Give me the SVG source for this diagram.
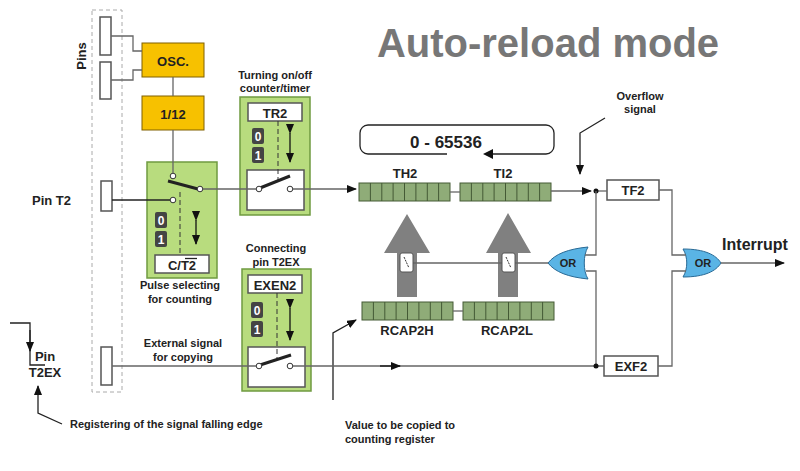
<svg xmlns="http://www.w3.org/2000/svg" width="800" height="471" viewBox="0 0 800 471">
<style>
text{font-family:"Liberation Sans",Arial,sans-serif;font-weight:bold;fill:#222}
.s{font-size:11px}
.m{font-size:13px}
.w{fill:#fff;stroke:#555;stroke-width:1.5}
.g{fill:#b8dc7e;stroke:#6f9a40;stroke-width:1.5}
.y{fill:#f7c100;stroke:#806000;stroke-width:1}
.ln{fill:none;stroke:#666;stroke-width:1.3}
.bk{fill:none;stroke:#222;stroke-width:1.3}
.reg{fill:#8fac78;stroke:#445a35;stroke-width:1}
.or{fill:#5ab4e5;stroke:#2a6a95;stroke-width:1}
.d{fill:#444;stroke:none}
.dg{fill:#fff;font-size:12px}
.c{fill:#fff;stroke:#333;stroke-width:1}
</style>
<defs>
<marker id="a" markerWidth="10" markerHeight="8" refX="9" refY="4" orient="auto" markerUnits="userSpaceOnUse"><path d="M0,0L10,4L0,8z" fill="#111"/></marker>
<g id="sw"><rect x="0" y="0" width="13" height="19" rx="2" fill="#fff" stroke="#555"/><path d="M4,4L9,15" stroke="#333" stroke-width="1" stroke-dasharray="2,1"/></g>
<g id="dig"><rect x="0" y="0" width="12" height="16" rx="2" class="d"/><rect x="0" y="19" width="12" height="16" rx="2" class="d"/><text x="6" y="13" text-anchor="middle" class="dg">0</text><text x="6" y="32" text-anchor="middle" class="dg">1</text></g>
</defs>
<text x="548" y="57" text-anchor="middle" style="font-size:40px;fill:#777">Auto-reload mode</text>
<g id="pins">
<rect x="92" y="10" width="30" height="382" fill="none" stroke="#aaa" stroke-dasharray="4,3"/>
<rect x="100" y="17" width="11" height="38" class="w"/>
<rect x="100" y="62" width="11" height="37" class="w"/>
<rect x="101" y="181" width="11" height="30" class="w"/>
<rect x="101" y="347" width="11" height="38" class="w"/>
<text transform="translate(86,56) rotate(-90)" class="m" text-anchor="middle">Pins</text>
<text x="71" y="205" class="m" text-anchor="end">Pin T2</text>
<text x="45" y="361" class="m" text-anchor="middle">Pin</text>
<text x="45" y="377" class="m" text-anchor="middle">T2EX</text>
</g>
<g id="osc"><rect x="142" y="43" width="62" height="34" class="y"/><text x="173" y="66" class="m" text-anchor="middle">OSC.</text></g>
<g id="div"><rect x="142" y="96" width="62" height="34" class="y"/><text x="173" y="119" class="m" text-anchor="middle">1/12</text></g>
<g id="ct2">
<rect x="147" y="162" width="70" height="116" class="g"/>
<path d="M180,192V256" stroke="#333" stroke-dasharray="5,3"/>
<path d="M168,181L198,189" stroke="#222" stroke-width="3"/>
<circle cx="173" cy="176" r="2.8" class="c"/><circle cx="173" cy="200" r="2.8" class="c"/><circle cx="200" cy="189" r="2.8" class="c"/>
<use href="#dig" x="155" y="212"/>
<path d="M196,220V244" stroke="#111" stroke-width="1.3" marker-start="url(#a)" marker-end="url(#a)"/>
<rect x="155" y="255" width="54" height="18" class="w"/>
<text x="182" y="270" class="m" text-anchor="middle">C/T2</text>
<path d="M185,258.5H197" stroke="#222" stroke-width="1.3"/>
<text x="180" y="289" class="s" text-anchor="middle">Pulse selecting</text>
<text x="180" y="303" class="s" text-anchor="middle">for counting</text>
</g>
<g id="tr2">
<text x="275" y="79" class="s" text-anchor="middle">Turning on/off</text>
<text x="275" y="92" class="s" text-anchor="middle">counter/timer</text>
<rect x="240" y="97" width="70" height="118" class="g"/>
<rect x="248" y="103" width="54" height="18" class="w"/>
<text x="275" y="118" class="m" text-anchor="middle">TR2</text>
<use href="#dig" x="252" y="128"/>
<path d="M290,133V162" stroke="#111" stroke-width="1.3" marker-start="url(#a)" marker-end="url(#a)"/>
<rect x="247" y="170" width="57" height="40" class="w"/>
<path d="M278,121V180" stroke="#333" stroke-dasharray="5,3"/>
<path d="M260,188L290,176" stroke="#222" stroke-width="3"/>
<circle cx="259" cy="189" r="2.8" class="c"/><circle cx="290" cy="189" r="2.8" class="c"/>
</g>
<g id="exen2">
<text x="276" y="252" class="s" text-anchor="middle">Connecting</text>
<text x="276" y="266" class="s" text-anchor="middle">pin T2EX</text>
<rect x="242" y="269" width="69" height="122" class="g"/>
<rect x="248" y="275" width="54" height="18" class="w"/>
<text x="275" y="290" class="m" text-anchor="middle">EXEN2</text>
<use href="#dig" x="251" y="302"/>
<path d="M290,308V340" stroke="#111" stroke-width="1.3" marker-start="url(#a)" marker-end="url(#a)"/>
<rect x="248" y="347" width="57" height="40" class="w"/>
<path d="M277,293V358" stroke="#333" stroke-dasharray="5,3"/>
<path d="M260,365L291,355" stroke="#222" stroke-width="3"/>
<circle cx="259" cy="366" r="2.8" class="c"/><circle cx="290" cy="366" r="2.8" class="c"/>
</g>
<g id="counter">
<path d="M447,154H368a8,8 0 0 1 -8,-8V133a8,8 0 0 1 8,-8H546a8,8 0 0 1 8,8V146a8,8 0 0 1 -8,8H488" class="bk" stroke="#444"/>
<path d="M483,154L493,149V159z" fill="#111"/>
<text x="446" y="148" text-anchor="middle" style="font-size:17px">0 - 65536</text>
</g>
<g id="th2"><text x="405" y="178" class="m" text-anchor="middle">TH2</text>
<rect x="359" y="183" width="91" height="18" class="reg"/>
<path d="M370.4,183v18M381.8,183v18M393.1,183v18M404.5,183v18M415.9,183v18M427.3,183v18M438.6,183v18" stroke="#445a35"/></g>
<g id="tl2"><text x="503" y="178" class="m" text-anchor="middle">TI2</text>
<rect x="460" y="183" width="91" height="18" class="reg"/>
<path d="M471.4,183v18M482.8,183v18M494.1,183v18M505.5,183v18M516.9,183v18M528.3,183v18M539.6,183v18" stroke="#445a35"/></g>
<g id="rcap2h"><rect x="362" y="302" width="91" height="18" class="reg"/>
<path d="M373.4,302v18M384.8,302v18M396.1,302v18M407.5,302v18M418.9,302v18M430.3,302v18M441.6,302v18" stroke="#445a35"/>
<text x="407" y="335" class="m" text-anchor="middle">RCAP2H</text></g>
<g id="rcap2l"><rect x="463" y="302" width="91" height="18" class="reg"/>
<path d="M474.4,302v18M485.8,302v18M497.1,302v18M508.5,302v18M519.9,302v18M531.3,302v18M542.6,302v18" stroke="#445a35"/>
<text x="507" y="335" class="m" text-anchor="middle">RCAP2L</text></g>
<g id="copyarrows" fill="#808080">
<path d="M397,297V253H384L407,214L430,253H417V297z"/>
<path d="M498,297V253H486L508,213L531,253H518V297z"/>
</g>
<g id="tf2"><rect x="607" y="180" width="52" height="20" class="w"/><text x="633" y="195" class="m" text-anchor="middle">TF2</text></g>
<g id="exf2"><rect x="604" y="356" width="54" height="20" class="w"/><text x="631" y="371" class="m" text-anchor="middle">EXF2</text></g>
<g id="or1"><path d="M548,263C555,254 568,249 588,247C583,255 583,271 588,279C568,277 555,272 548,263z" class="or"/><text x="568" y="267" class="s" text-anchor="middle">OR</text></g>
<g id="or2"><path d="M683,249C705,249 716,255 721,263C716,271 705,277 683,277C688,269 688,257 683,249z" class="or"/><text x="703" y="267" class="s" text-anchor="middle">OR</text></g>
<g id="connectors">
<path d="M111,36H133V51H142M111,80H133V70H142" class="ln"/>
<path d="M173,77V96M173,130V173" class="ln"/>
<path d="M112,200H170" class="bk"/>
<path d="M203,189H256M293,189H356" class="ln" marker-end="url(#a)"/>
<path d="M450,192H460" class="ln"/>
<path d="M551,191H591" class="ln" marker-end="url(#a)"/>
<path d="M596,191H607" class="ln"/>
<path d="M605,118L580,133V174" class="bk" marker-end="url(#a)"/>
<circle cx="596" cy="191" r="2.5" fill="#111"/>
<path d="M596,191V255H585M586,271H596V366" class="ln"/>
<path d="M548,263H515M503,263H413" class="ln"/>
<use href="#sw" x="400" y="253"/><use href="#sw" x="502" y="253"/>
<path d="M453,311H463" class="ln"/>
<path d="M333,400V333L356,320" class="bk" marker-end="url(#a)"/>
<path d="M112,366H256M293,366H604" class="ln"/>
<path d="M380,366H400" stroke="#111" stroke-width="1.3" marker-end="url(#a)"/>
<circle cx="596" cy="366" r="2.5" fill="#111"/>
<path d="M659,190H672V255H686M658,366H672V271H686" class="ln"/>
<path d="M721,263H784" class="ln" marker-end="url(#a)"/>
<path d="M10,323H30V365H45" class="bk"/>
<path d="M30,330V351" class="bk" marker-end="url(#a)"/>
<path d="M62,424L38,413V386" class="bk" marker-end="url(#a)"/>
</g>
<text x="640" y="100" class="s" text-anchor="middle">Overflow</text>
<text x="640" y="113" class="s" text-anchor="middle">signal</text>
<text x="755" y="250" text-anchor="middle" style="font-size:16px">Interrupt</text>
<text x="183" y="347" class="s" text-anchor="middle">External signal</text>
<text x="183" y="361" class="s" text-anchor="middle">for copying</text>
<text x="70" y="428" class="s">Registering of the signal falling edge</text>
<text x="345" y="429" class="s">Value to be copied to</text>
<text x="345" y="443" class="s">counting register</text>
</svg>
